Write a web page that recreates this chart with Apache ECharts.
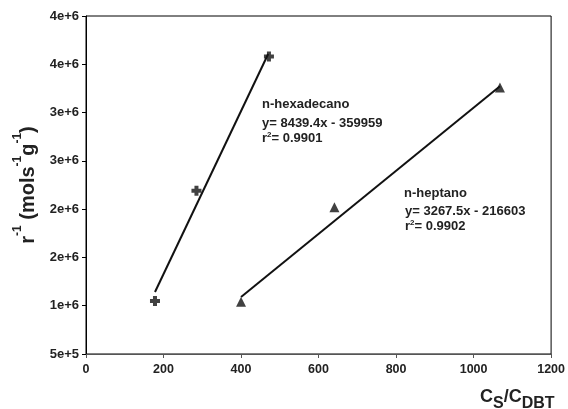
<!DOCTYPE html>
<html><head><meta charset="utf-8">
<script src="https://cdn.jsdelivr.net/npm/echarts@6/dist/echarts.min.js"></script>
<style>html,body{margin:0;padding:0;background:#fff}#c{width:568px;height:409px}</style>
</head><body><div id="c"></div>
<script>
// Data
var hexX = [178, 285, 472];
var hexY = [1050000, 2190000, 3580000];
var heptX = [400, 641, 1068];
var heptY = [1040000, 2020000, 3260000];
// trend line endpoints
var hexLineX = [178, 470];
var hexLineY = [1142000, 3607000];
var heptLineX = [400, 1068];
var heptLineY = [1090000, 3273000];
var xTicks = [0, 200, 400, 600, 800, 1000, 1200];
var yTicks = [500000, 1000000, 1500000, 2000000, 2500000, 3000000, 3500000, 4000000];

function pairs(xs, ys){ return xs.map(function(x,i){return [x, ys[i]];}); }
function sciFmt(v){
  if (v === 0) return '0e+0';
  var e = Math.floor(Math.log10(v) + 1e-9);
  var m = Math.round(v / Math.pow(10, e));
  if (m >= 10) { m = 1; e += 1; }
  return m + 'e+' + e;
}
var FONT = '"Liberation Sans", Arial, sans-serif';
var chart = echarts.init(document.getElementById('c'), null, {renderer:'canvas'});
var plus = 'path://M-1.2,-3 L1.2,-3 L1.2,-1.2 L3,-1.2 L3,1.2 L1.2,1.2 L1.2,3 L-1.2,3 L-1.2,1.2 L-3,1.2 L-3,-1.2 L-1.2,-1.2 Z';
var annRich = {a: {font: 'bold 13px ' + FONT, fill: '#222'}, s: {font: 'bold 8px ' + FONT, fill: '#222', verticalAlign: 'top', padding:[0,0,7,0]}};
chart.setOption({
  animation: false,
  backgroundColor: '#fff',
  grid: {left: 86, right: 14, top: 16, bottom: 55, show: true, borderColor: '#000', borderWidth: 1},
  xAxis: {
    type: 'value', min: 0, max: 1200, interval: 200,
    axisLine: {show: true, lineStyle: {color: '#555', width: 1}},
    axisTick: {show: true, length: 4, lineStyle: {color: '#555'}},
    splitLine: {show: false},
    axisLabel: {color: '#222', fontFamily: FONT, fontWeight: 'bold', fontSize: 12.5, margin: 9,
      formatter: function(v){ return xTicks.indexOf(v) >= 0 ? String(v) : ''; }}
  },
  yAxis: {
    type: 'value', min: 500000, max: 4000000, interval: 500000,
    axisLine: {show: true, lineStyle: {color: '#000', width: 1}},
    axisTick: {show: true, length: 4, lineStyle: {color: '#000'}},
    splitLine: {show: false},
    axisLabel: {color: '#222', fontFamily: FONT, fontWeight: 'bold', fontSize: 13, margin: 7,
      formatter: function(v){ return yTicks.indexOf(v) >= 0 ? sciFmt(v) : ''; }},
    name: '{b|r}{s|-1}{b| (mols}{s|-1}{b|g}{s|-1}{b|)}',
    nameLocation: 'middle', nameGap: 48, nameRotate: 90,
    nameTextStyle: {
      rich: {
        b: {fontFamily: FONT, fontWeight: 'bold', fontSize: 20, color: '#222', verticalAlign: 'bottom', lineHeight: 26},
        s: {fontFamily: FONT, fontWeight: 'bold', fontSize: 12, color: '#222', verticalAlign: 'top', lineHeight: 26, padding: [0,0,12,0]}
      }
    }
  },
  series: [
    {type: 'line', data: pairs(hexLineX, hexLineY), symbol: 'none', lineStyle: {color: '#111', width: 2}, z: 2},
    {type: 'line', data: pairs(heptLineX, heptLineY), symbol: 'none', lineStyle: {color: '#111', width: 2}, z: 2},
    {type: 'scatter', data: pairs(hexX, hexY), symbol: plus, symbolSize: 10, itemStyle: {color: '#111'}, z: 3},
    {type: 'scatter', data: pairs(heptX, heptY), symbol: 'triangle', symbolSize: 10, itemStyle: {color: '#111'}, z: 3}
  ],
  graphic: [
    {type: 'text', left: 262, top: 98, style: {text: 'n-hexadecano', font: 'bold 13px ' + FONT, fill: '#222'}},
    {type: 'text', left: 262, top: 117, style: {text: 'y= 8439.4x - 359959', font: 'bold 13px ' + FONT, fill: '#222'}},
    {type: 'text', left: 262, top: 131, style: {text: '{a|r}{s|2}{a|= 0.9901}', rich: annRich}},
    {type: 'text', left: 404, top: 187, style: {text: 'n-heptano', font: 'bold 13px ' + FONT, fill: '#222'}},
    {type: 'text', left: 405, top: 205, style: {text: 'y= 3267.5x - 216603', font: 'bold 13px ' + FONT, fill: '#222'}},
    {type: 'text', left: 405, top: 219, style: {text: '{a|r}{s|2}{a|= 0.9902}', rich: annRich}},
    {type: 'text', left: 480, top: 388, style: {text: '{b|C}{s|S}{b|/C}{s|DBT}', rich: {
      b: {font: 'bold 18px ' + FONT, fill: '#222', verticalAlign: 'top', lineHeight: 24},
      s: {font: 'bold 16px ' + FONT, fill: '#222', verticalAlign: 'bottom', lineHeight: 24, padding: [6,0,0,0]}
    }}}
  ]
});
</script></body></html>
